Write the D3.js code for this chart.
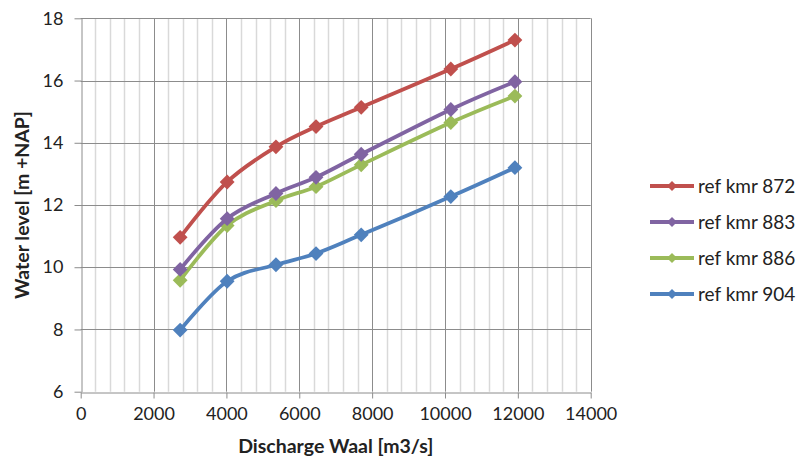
<!DOCTYPE html>
<html>
<head>
<meta charset="utf-8">
<script src="https://cdn.jsdelivr.net/npm/d3@7"></script>
<style>
  body { margin: 0; background: #fff; }
  text { font-family: Lato, "Open Sans", sans-serif; fill: #222; }
</style>
</head>
<body>
<div id="chart"></div>
<script>
// discharge (x) for every measurement
const discharge = [2730, 4020, 5360, 6460, 7700, 10160, 11920];

const kmr872 = [10.96, 12.74, 13.87, 14.52, 15.14, 16.37, 17.30];
const kmr883 = [9.93, 11.56, 12.37, 12.89, 13.63, 15.07, 15.96];
const kmr886 = [9.58, 11.34, 12.14, 12.59, 13.29, 14.65, 15.50];
const kmr904 = [7.98, 9.55, 10.08, 10.44, 11.04, 12.27, 13.20];

const seriesNames = ["ref kmr 872", "ref kmr 883", "ref kmr 886", "ref kmr 904"];
const colores = ["#C0504D", "#8064A2", "#9BBB59", "#4F81BD"];
const xTicks = [0, 2000, 4000, 6000, 8000, 10000, 12000, 14000];
const yTicks = [6, 8, 10, 12, 14, 16, 18];

const series = [kmr872, kmr883, kmr886, kmr904].map((vals, i) => ({
  name: seriesNames[i],
  color: colores[i],
  points: vals.map((v, j) => ({x: discharge[j], y: v}))
}));

const W = 800, H = 459;
const margin = {left: 80.7, right: 209.3, top: 18.3, bottom: 67.3};

const svg = d3.select("#chart").append("svg")
  .attr("width", W)
  .attr("height", H);

const escalaX = d3.scaleLinear().domain([0, 14000]).range([margin.left, W - margin.right]);
const escalaY = d3.scaleLinear().domain([6, 18]).range([H - margin.bottom, margin.top]);

// minor vertical gridlines every 400
const minor = d3.range(0, 14001, 400).filter(v => v % 2000 !== 0);
svg.append("g").selectAll("line")
  .data(minor)
  .join("line")
  .attr("x1", d => Math.round(escalaX(d)) + 0.5)
  .attr("x2", d => Math.round(escalaX(d)) + 0.5)
  .attr("y1", escalaY(18))
  .attr("y2", escalaY(6))
  .attr("stroke", "#d9d9d9")
  .attr("stroke-width", 1.5);

// major gridlines
svg.append("g").selectAll("line")
  .data(xTicks.slice(1))
  .join("line")
  .attr("x1", d => Math.round(escalaX(d)) + 0.5)
  .attr("x2", d => Math.round(escalaX(d)) + 0.5)
  .attr("y1", escalaY(18))
  .attr("y2", escalaY(6))
  .attr("stroke", "#8c8c8c")
  .attr("stroke-width", 1);

svg.append("g").selectAll("line")
  .data(yTicks.slice(1))
  .join("line")
  .attr("x1", escalaX(0))
  .attr("x2", escalaX(14000))
  .attr("y1", d => Math.round(escalaY(d)) + 0.5)
  .attr("y2", d => Math.round(escalaY(d)) + 0.5)
  .attr("stroke", "#8c8c8c")
  .attr("stroke-width", 1);

// axes
const ejeX = svg.append("g")
  .attr("transform", `translate(0, ${Math.round(escalaY(6)) + 0.5})`)
  .call(d3.axisBottom(escalaX).tickValues(xTicks).tickFormat(d3.format("d"))
    .tickSize(6).tickPadding(9).tickSizeOuter(0));

const ejeY = svg.append("g")
  .attr("transform", `translate(${Math.round(escalaX(0)) + 0.5}, 0)`)
  .call(d3.axisLeft(escalaY).tickValues(yTicks).tickSize(7).tickPadding(11).tickSizeOuter(0));

[ejeX, ejeY].forEach(eje => {
  eje.select(".domain").attr("stroke", "#8c8c8c");
  eje.selectAll(".tick line").attr("stroke", "#8c8c8c");
  eje.selectAll(".tick text")
    .style("font-size", "18px")
    .style("font-family", "Lato, sans-serif")
    .attr("fill", "#222");
});

// axis titles
svg.append("text")
  .attr("x", (escalaX(0) + escalaX(14000)) / 2)
  .attr("y", 453)
  .attr("text-anchor", "middle")
  .style("font-size", "19.5px")
  .style("font-weight", "bold")
  .text("Discharge Waal [m3/s]");

svg.append("text")
  .attr("transform", `translate(29, ${(escalaY(6) + escalaY(18)) / 2}) rotate(-90)`)
  .attr("text-anchor", "middle")
  .style("font-size", "19.5px")
  .style("font-weight", "bold")
  .text("Water level [m +NAP]");

// lines and markers
const linea = d3.line()
  .x(d => escalaX(d.x))
  .y(d => escalaY(d.y))
  .curve(d3.curveCardinal.tension(0));

const diamante = d3.symbol().type(d3.symbolDiamond2).size(140);

const grupos = svg.append("g").selectAll("g")
  .data(series.slice().reverse())
  .join("g");

grupos.append("path")
  .attr("d", d => linea(d.points))
  .attr("fill", "none")
  .attr("stroke", d => d.color)
  .attr("stroke-width", 3.8);

grupos.selectAll("path.marca")
  .data(d => d.points.map(p => ({...p, color: d.color})))
  .join("path")
  .attr("class", "marca")
  .attr("d", diamante)
  .attr("transform", d => `translate(${escalaX(d.x)}, ${escalaY(d.y)})`)
  .attr("fill", d => d.color);

// legend
const leyenda = svg.append("g")
  .selectAll("g")
  .data(series)
  .join("g")
  .attr("transform", (d, i) => `translate(650, ${186 + i * 36})`);

leyenda.append("line")
  .attr("x1", 0).attr("x2", 44)
  .attr("stroke", d => d.color)
  .attr("stroke-width", 3.8);

leyenda.append("path")
  .attr("d", d3.symbol().type(d3.symbolDiamond2).size(65))
  .attr("transform", "translate(22, 0)")
  .attr("fill", d => d.color);

leyenda.append("text")
  .attr("x", 48)
  .attr("y", 6.5)
  .style("font-size", "19px")
  .text(d => d.name);
</script>
</body>
</html>
